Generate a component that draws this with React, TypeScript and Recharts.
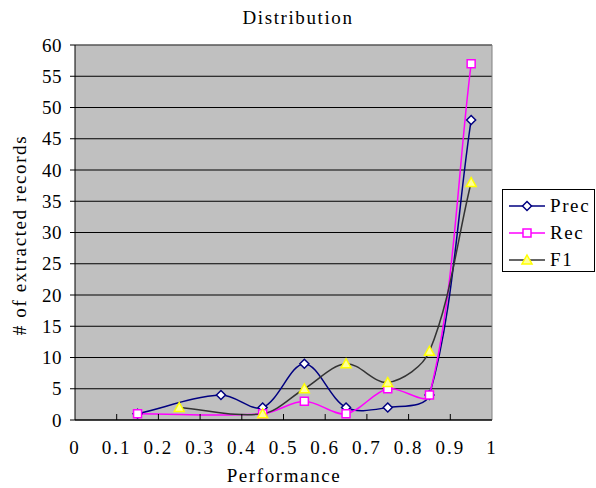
import React from 'react'
import {
  CartesianGrid,
  Line,
  LineChart,
  ReferenceLine,
  XAxis,
  YAxis,
} from 'recharts'

// performance bucket centres
const buckets = [0.15, 0.25, 0.35, 0.45, 0.55, 0.65, 0.75, 0.85, 0.95]
// # of extracted records per bucket (null = no point)
const prec = [1, null, 4, 2, 9, 2, 2, 4, 48]
const rec = [1, null, null, 1, 3, 1, 5, 4, 57]
const f1 = [null, 2, null, 1, 5, 9, 6, 11, 38]

const xTicks = [0, 0.1, 0.2, 0.3, 0.4, 0.5, 0.6, 0.7, 0.8, 0.9, 1]
const yTicks = [0, 5, 10, 15, 20, 25, 30, 35, 40, 45, 50, 55, 60]

const data = buckets.map((x, i) => ({ x, prec: prec[i], rec: rec[i], f1: f1[i] }))

const FONT = '"Liberation Serif", serif'

// excel-like smoothing: catmull-rom tangents scaled by neighbouring chord lengths
function excelCurve(context: any) {
  let pts: number[][] = []
  const dist = (a: number[], b: number[]) => Math.hypot(b[0] - a[0], b[1] - a[1])
  return {
    areaStart() {},
    areaEnd() {},
    lineStart() {
      pts = []
    },
    point(x: number, y: number) {
      pts.push([+x, +y])
    },
    lineEnd() {
      const n = pts.length
      if (!n) return
      context.moveTo(pts[0][0], pts[0][1])
      // tangent at each point
      const tan = pts.map((p, i) => {
        const a = pts[i - 1] || p
        const b = pts[i + 1] || p
        return [b[0] - a[0], b[1] - a[1], dist(a, p), dist(p, b)]
      })
      for (let i = 0; i < n - 1; i++) {
        const p1 = pts[i]
        const p2 = pts[i + 1]
        const t1 = tan[i]
        const t2 = tan[i + 1]
        const s1 = t1[2] + t1[3] > 0 ? t1[3] / (t1[2] + t1[3]) / 1.5 : 0
        const s2 = t2[2] + t2[3] > 0 ? t2[2] / (t2[2] + t2[3]) / 1.5 : 0
        context.bezierCurveTo(
          p1[0] + (t1[0] * s1) / 2,
          p1[1] + (t1[1] * s1) / 2,
          p2[0] - (t2[0] * s2) / 2,
          p2[1] - (t2[1] * s2) / 2,
          p2[0],
          p2[1]
        )
      }
    },
  }
}

const Diamond = ({ cx, cy }: any) => (
  <path d={`M${cx},${cy - 4.5}L${cx + 4.5},${cy}L${cx},${cy + 4.5}L${cx - 4.5},${cy}Z`} fill="#fff" stroke="#000080" strokeWidth={1.5} />
)
const Square = ({ cx, cy }: any) => (
  <rect x={cx - 4} y={cy - 4} width={8} height={8} fill="#fff" stroke="#ff00ff" strokeWidth={1.5} />
)
const Triangle = ({ cx, cy }: any) => (
  <path d={`M${cx},${cy - 5}L${cx + 5},${cy + 4}L${cx - 5},${cy + 4}Z`} fill="#ffff99" stroke="#ffff00" strokeWidth={1.5} />
)

const series = [
  { key: 'prec', name: 'Prec', color: '#000080', Marker: Diamond },
  { key: 'rec', name: 'Rec', color: '#ff00ff', Marker: Square },
  { key: 'f1', name: 'F1', color: '#333333', Marker: Triangle },
]

const XTick = ({ x, y, payload }: any) => {
  const v = payload.value
  const inner = v > 0.05 && v < 0.95
  return (
    <g>
      {inner && <line x1={x} y1={y} x2={x} y2={y - 6} stroke="#000" />}
      <text x={x} y={y + 34} textAnchor="middle" fontFamily={FONT} fontSize={19} letterSpacing={2} fill="#000">
        {String(v)}
      </text>
    </g>
  )
}

const text = { fontSize: 19, letterSpacing: 1.6 }

export default function App() {
  return (
    <div style={{ position: 'fixed', left: 0, top: 0, width: 596, height: 488, background: '#fff', fontFamily: FONT }}>
      <LineChart width={596} height={488} data={data} margin={{ top: 45, right: 104, bottom: 28, left: 0 }}>
        <CartesianGrid vertical={false} stroke="#000" fill="#c0c0c0" fillOpacity={1} />
        <XAxis
          dataKey="x"
          type="number"
          domain={[0, 1]}
          ticks={xTicks}
          interval={0}
          tickSize={0}
          tickMargin={0}
          tickLine={false}
          axisLine={{ stroke: '#000' }}
          tick={<XTick />}
          height={40}
        />
        <YAxis
          type="number"
          domain={[0, 60]}
          ticks={yTicks}
          interval={0}
          width={75}
          tickSize={5}
          tickMargin={8}
          axisLine={{ stroke: '#000' }}
          tickLine={{ stroke: '#000' }}
          tick={{ fill: '#000', fontFamily: FONT, fontSize: 19, letterSpacing: 0.5 }}
        />
        <ReferenceLine y={60} stroke="#808080" />
        <ReferenceLine x={1} stroke="#808080" />
        {series.map((s) => (
          <Line
            key={s.key}
            dataKey={s.key}
            name={s.name}
            type={excelCurve as any}
            stroke={s.color}
            strokeWidth={1.5}
            connectNulls
            isAnimationActive={false}
            dot={(p: any) => (p.value == null ? <g key={p.index} /> : <s.Marker key={p.index} cx={p.cx} cy={p.cy} />)}
            activeDot={false}
          />
        ))}
      </LineChart>

      <div style={{ ...text, position: 'absolute', left: 0, top: 7, width: 596, textAlign: 'center' }}>
        Distribution
      </div>
      <div
        style={{
          ...text,
          position: 'absolute',
          left: 20,
          top: 235,
          transform: 'translate(-50%, -50%) rotate(-90deg)',
          whiteSpace: 'nowrap',
        }}
      >
        # of extracted records
      </div>
      <div
        style={{
          ...text,
          position: 'absolute',
          left: 284,
          top: 476,
          lineHeight: '20px',
          transform: 'translate(-50%, -50%)',
          whiteSpace: 'nowrap',
        }}
      >
        Performance
      </div>

      <div
        style={{
          ...text,
          position: 'absolute',
          left: 502,
          top: 189,
          width: 93,
          height: 83,
          boxSizing: 'border-box',
          border: '1px solid #000',
          background: '#fff',
        }}
      >
        {series.map((s, i) => (
          <div key={s.key} style={{ position: 'absolute', left: 0, top: 6 + i * 27, height: 20, width: 92 }}>
            <svg width={40} height={20} style={{ position: 'absolute', left: 6, top: 0 }}>
              <line x1={0} y1={10} x2={36} y2={10} stroke={s.color} strokeWidth={1.5} />
              <s.Marker cx={18} cy={10} />
            </svg>
            <span style={{ position: 'absolute', left: 47, top: 0, lineHeight: '20px' }}>{s.name}</span>
          </div>
        ))}
      </div>
    </div>
  )
}
